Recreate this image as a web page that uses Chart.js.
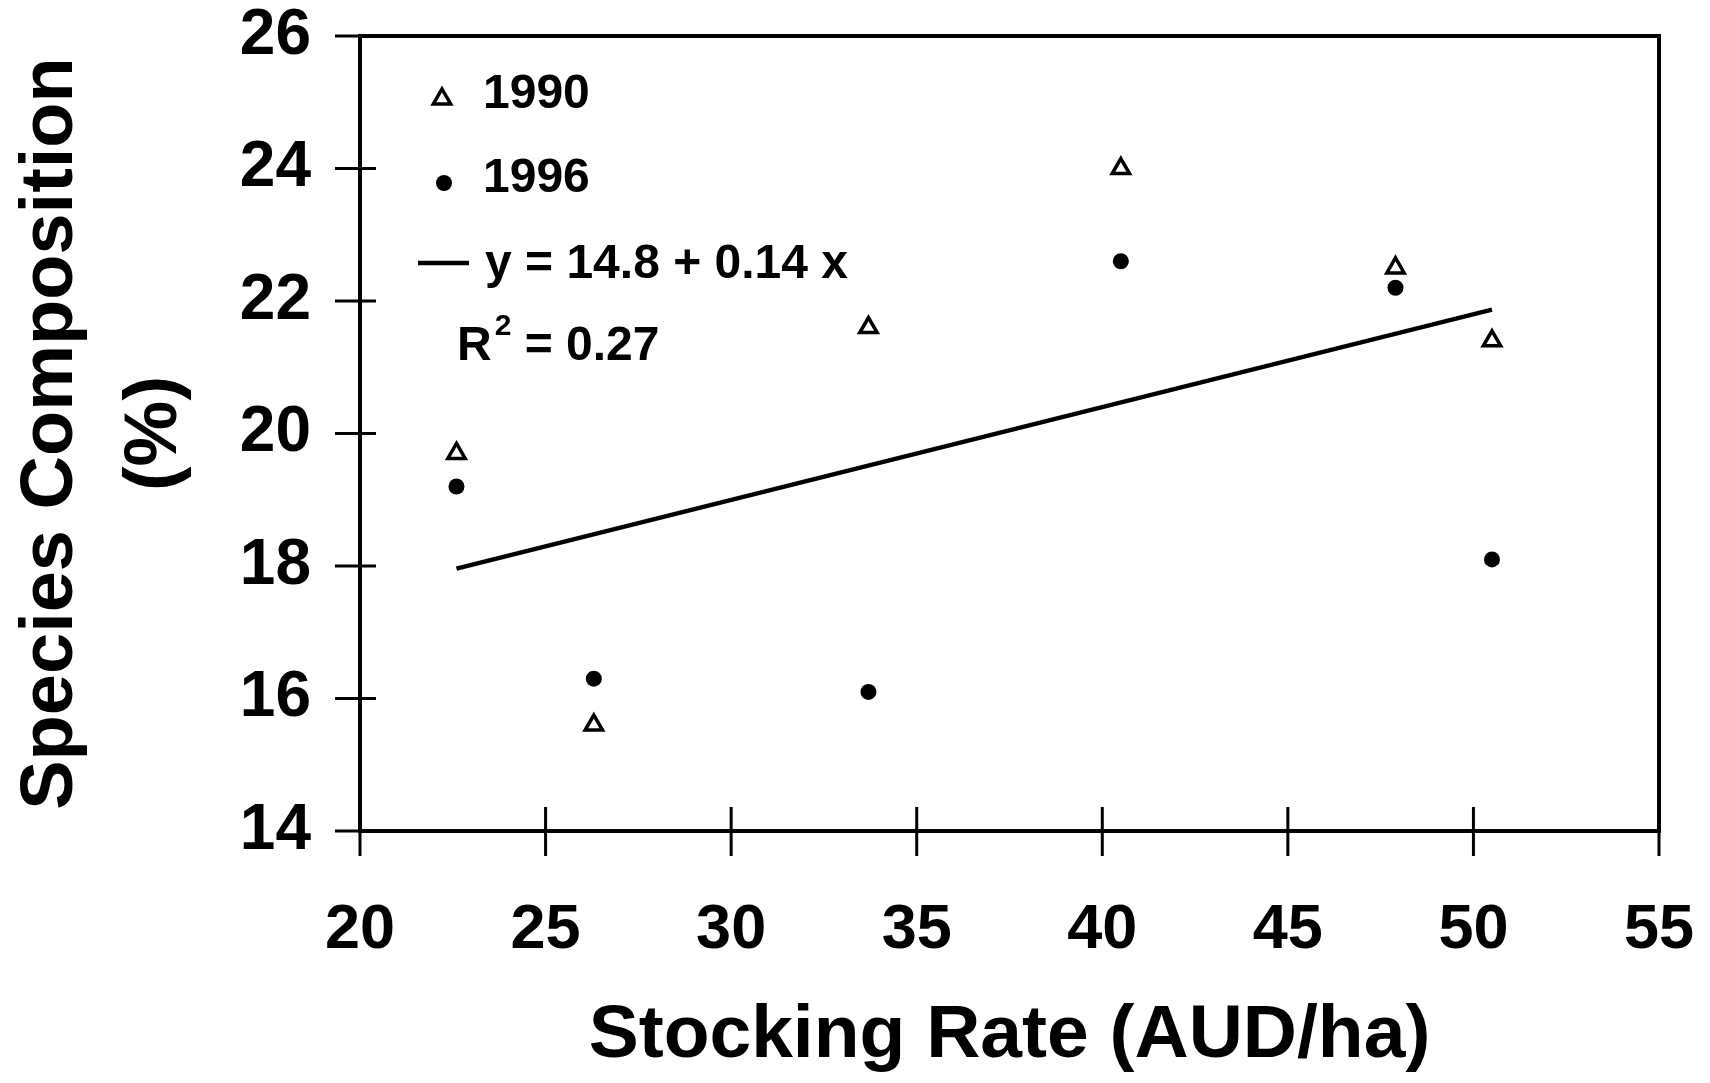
<!DOCTYPE html>
<html>
<head>
<meta charset="utf-8">
<script src="https://cdn.jsdelivr.net/npm/chart.js@4/dist/chart.umd.min.js"></script>
<style>
  html, body { margin: 0; padding: 0; background: #fff; }
  #wrap { width: 1710px; height: 1083px; }
</style>
</head>
<body>
<div id="wrap"><canvas id="srChart"></canvas></div>
<script>
// stocking rate (AUD/ha) of each paddock
const stockingRate = [22.6, 26.3, 33.7, 40.5, 47.9, 50.5];
// species composition (%)
const comp1990 = [19.7, 15.6, 21.6, 24.0, 22.5, 21.4];
const comp1996 = [19.2, 16.3, 16.1, 22.6, 22.2, 18.1];
// fitted line ends, as drawn
const trendX = [22.6, 50.5];
const trendY = [17.96, 21.87];
const trendLabel = 'y = 14.8 + 0.14 x';
const r2Parts = ['R', '2', ' = 0.27'];
const xTicks = [20, 25, 30, 35, 40, 45, 50, 55];
const yTicks = [14, 16, 18, 20, 22, 24, 26];

const FAMILY = '"Liberation Sans", Arial, sans-serif';
const LEG_FONT = 'bold 48px ' + FAMILY;
const SUP_FONT = 'bold 30px ' + FAMILY;

function toPoints(xs, ys) {
    return xs.map((x, i) => ({ x: x, y: ys[i] }));
}

function triangle(ctx, x, y, r, lw) {
    ctx.beginPath();
    ctx.moveTo(x, y - r);
    ctx.lineTo(x + r * 0.866, y + r * 0.5);
    ctx.lineTo(x - r * 0.866, y + r * 0.5);
    ctx.closePath();
    ctx.fillStyle = '#fff';
    ctx.fill();
    ctx.lineWidth = lw;
    ctx.strokeStyle = '#000';
    ctx.stroke();
}

// no extra label padding, so layout.padding decides the plot box
function noPad(s) {
    s.paddingLeft = 0; s.paddingRight = 0;
    s.paddingTop = 0; s.paddingBottom = 0;
}

// box frame + crossing tick marks
const framePlugin = {
    id: 'frame',
    beforeDatasetsDraw(chart) {
        const ctx = chart.ctx;
        const xs = chart.scales.x, ys = chart.scales.y;
        const x0 = xs.getPixelForValue(20), x1 = xs.getPixelForValue(55);
        const y0 = ys.getPixelForValue(14), y1 = ys.getPixelForValue(26);
        ctx.save();
        ctx.strokeStyle = '#000';
        ctx.lineCap = 'square';
        ctx.lineWidth = 4;
        ctx.beginPath();
        ctx.moveTo(x0, y1); ctx.lineTo(x1, y1); ctx.lineTo(x1, y0);
        ctx.lineTo(x0, y0); ctx.closePath();
        ctx.stroke();
        ctx.lineWidth = 3;
        ctx.lineCap = 'butt';
        yTicks.forEach(v => {
            const p = ys.getPixelForValue(v);
            ctx.beginPath(); ctx.moveTo(x0 - 25, p); ctx.lineTo(x0 + 16, p); ctx.stroke();
        });
        xTicks.forEach(v => {
            const p = xs.getPixelForValue(v);
            ctx.beginPath(); ctx.moveTo(p, y0 - 24); ctx.lineTo(p, y0 + 25); ctx.stroke();
        });
        ctx.restore();
    }
};

// legend block in the upper left of the plot
const legendPlugin = {
    id: 'insideLegend',
    afterDatasetsDraw(chart) {
        const ctx = chart.ctx;
        const L = chart.chartArea.left, T = chart.chartArea.top;
        const ds = chart.data.datasets;
        ctx.save();
        ctx.font = LEG_FONT;
        ctx.textBaseline = 'middle';
        ctx.textAlign = 'left';

        triangle(ctx, L + 82, T + 63, 10, 3.5);
        ctx.fillStyle = '#000';
        ctx.fillText(ds[0].label, L + 123, T + 59);

        ctx.beginPath();
        ctx.arc(L + 84, T + 147, 8, 0, Math.PI * 2);
        ctx.fill();
        ctx.fillText(ds[1].label, L + 123, T + 143);

        ctx.lineWidth = 4.5;
        ctx.strokeStyle = '#000';
        ctx.beginPath(); ctx.moveTo(L + 58, T + 227); ctx.lineTo(L + 109, T + 227); ctx.stroke();
        ctx.fillText(ds[2].label, L + 125, T + 229);

        // R squared with a raised 2
        ctx.textBaseline = 'alphabetic';
        let x = L + 97;
        ctx.fillText(r2Parts[0], x, T + 324);
        x += ctx.measureText(r2Parts[0]).width + 3;
        ctx.font = SUP_FONT;
        ctx.fillText(r2Parts[1], x, T + 299);
        x += ctx.measureText(r2Parts[1]).width;
        ctx.font = LEG_FONT;
        ctx.fillText(r2Parts[2], x, T + 324);
        ctx.restore();
    }
};

function initChart() {
    const ctx = document.getElementById('srChart').getContext('2d');
    new Chart(ctx, {
        type: 'scatter',
        data: {
            datasets: [
                {
                    label: '1990',
                    data: toPoints(stockingRate, comp1990),
                    pointStyle: 'triangle',
                    pointRadius: 10,
                    borderWidth: 3.5,
                    borderColor: '#000',
                    backgroundColor: '#fff'
                },
                {
                    label: '1996',
                    data: toPoints(stockingRate, comp1996),
                    pointStyle: 'circle',
                    pointRadius: 8,
                    borderWidth: 0,
                    borderColor: '#000',
                    backgroundColor: '#000'
                },
                {
                    label: trendLabel,
                    data: toPoints(trendX, trendY),
                    showLine: true,
                    pointRadius: 0,
                    borderColor: '#000',
                    borderWidth: 4.5
                }
            ]
        },
        options: {
            responsive: true,
            maintainAspectRatio: false,
            animation: false,
            layout: { padding: { left: 0, top: 36, right: 51, bottom: 0 } },
            plugins: {
                legend: { display: false },
                tooltip: { enabled: false }
            },
            scales: {
                x: {
                    type: 'linear',
                    min: 20, max: 55,
                    grid: { display: false },
                    border: { display: false },
                    afterBuildTicks: s => { s.ticks = xTicks.map(v => ({ value: v })); },
                    afterFit: s => { s.height = 252; noPad(s); },
                    ticks: {
                        color: '#000',
                        padding: 54,
                        font: { family: FAMILY, weight: 'bold', size: 63 }
                    },
                    title: {
                        display: true,
                        text: 'Stocking Rate (AUD/ha)',
                        color: '#000',
                        padding: { top: 0, bottom: 2 },
                        font: { family: FAMILY, weight: 'bold', size: 75 }
                    }
                },
                y: {
                    type: 'linear',
                    min: 14, max: 26,
                    grid: { display: false },
                    border: { display: false },
                    afterBuildTicks: s => { s.ticks = yTicks.map(v => ({ value: v })); },
                    afterFit: s => { s.width = 360; noPad(s); },
                    ticks: {
                        color: '#000',
                        padding: 41,
                        font: { family: FAMILY, weight: 'bold', size: 64 }
                    },
                    title: {
                        display: true,
                        text: ['Species Composition', '(%)'],
                        color: '#000',
                        padding: { top: 0, bottom: 0 },
                        font: { family: FAMILY, weight: 'bold', size: 74, lineHeight: 1.4 }
                    }
                }
            }
        },
        plugins: [framePlugin, legendPlugin]
    });
}

window.onload = initChart;
</script>
</body>
</html>
